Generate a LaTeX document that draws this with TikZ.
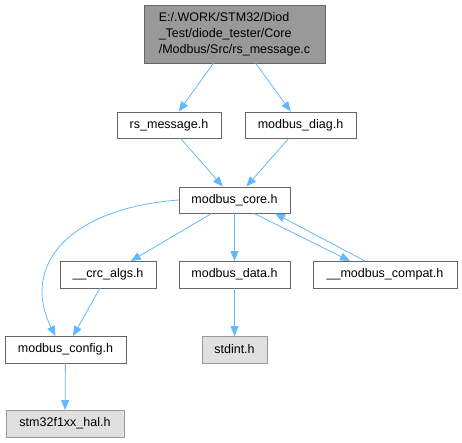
\documentclass[tikz,border=0pt]{standalone}
\usepackage{fontspec}
\setmainfont{Liberation Sans}
\usetikzlibrary{arrows.meta, positioning, calc}

\definecolor{edgeblue}{HTML}{63B8FF}
\definecolor{rootgray}{HTML}{999999}
\definecolor{leafgray}{HTML}{E0E0E0}

\begin{document}
\begin{tikzpicture}[
    x=1pt, y=-1pt,
    box/.style={draw=black!60, fill=white, minimum height=26.5pt, inner sep=2pt,
                font=\fontsize{12.5}{16}\selectfont},
    leaf/.style={box, draw=black!40, fill=leafgray},
    dep/.style={->, edgeblue, line width=0.8pt},
    >={Stealth[inset=0pt, length=10pt, width=8pt]}
]
\useasboundingbox (0,0) rectangle (462,443);

\node[box, fill=rootgray, minimum width=181pt, minimum height=58pt, align=left]
      (root)   at (234.5, 34)  {E:/.WORK/STM32/Diod\\\_Test/diode\_tester/Core\\/Modbus/Src/rs\_message.c};
\node[box, minimum width=104pt]  (rsmsg)  at (169, 125)   {rs\_message.h};
\node[box, minimum width=111pt]  (diag)   at (300.5, 125) {modbus\_diag.h};
\node[box, minimum width=111pt]  (core)   at (234.5, 200) {modbus\_core.h};
\node[box, minimum width=96pt]   (crc)    at (108, 274.5) {\_\_crc\_algs.h};
\node[box, minimum width=111pt]  (data)   at (234.5, 274.5) {modbus\_data.h};
\node[box, minimum width=144pt]  (compat) at (385, 274.5) {\_\_modbus\_compat.h};
\node[box, minimum width=121pt]  (config) at (65.5, 349.5) {modbus\_config.h};
\node[leaf, minimum width=65pt]  (stdint) at (234.5, 349.5) {stdint.h};
\node[leaf, minimum width=118pt] (hal)    at (65, 423.5) {stm32f1xx\_hal.h};

\draw[dep] (root)   -- (rsmsg);
\draw[dep] (root)   -- (diag);
\draw[dep] (rsmsg)  -- (core);
\draw[dep] (diag)   -- (core);
\draw[dep] (core)   -- (crc);
\draw[dep] (core)   -- (data);
\draw[dep] ([xshift=19.5pt]core.south) -- ([xshift=-35pt]compat.north);
\draw[dep] ([xshift=-20pt]compat.north) -- ([xshift=40.5pt]core.south);
\draw[dep] (core.west) .. controls (70,208) and (20,265) .. ([xshift=-10pt]config.north);
\draw[dep] ([xshift=-8pt]crc.south) -- ([xshift=7.5pt]config.north);
\draw[dep] (data)   -- (stdint);
\draw[dep] (config) -- (hal);
\end{tikzpicture}
\end{document}
